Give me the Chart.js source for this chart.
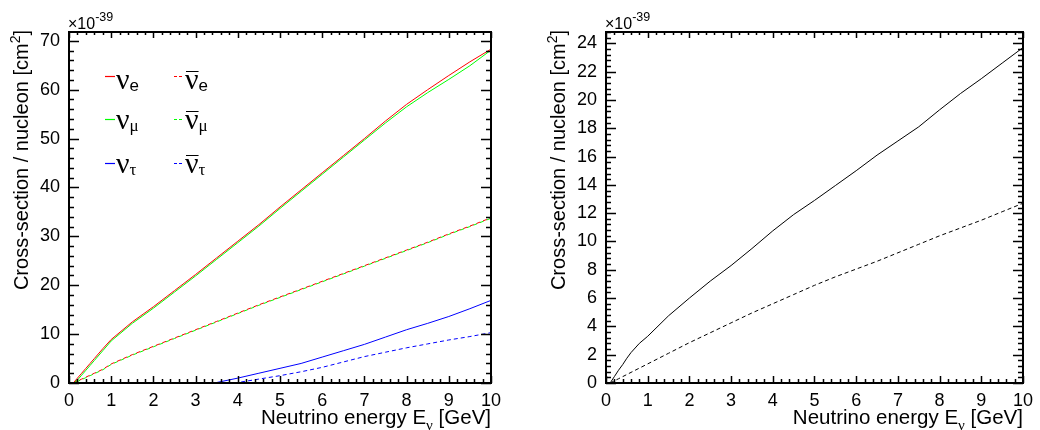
<!DOCTYPE html>
<html>
<head>
<meta charset="utf-8">
<title>Neutrino cross-sections</title>
<script src="https://cdn.jsdelivr.net/npm/chart.js@4.4.1/dist/chart.umd.min.js"></script>
<style>
  html, body { margin: 0; padding: 0; background: #fff; }
  #wrap { display: flex; width: 1040px; height: 430px; }
  canvas { display: block; }
</style>
</head>
<body>
<div id="wrap">
  <canvas id="xsec-flavour" width="520" height="430"></canvas>
  <canvas id="xsec-average" width="520" height="430"></canvas>
</div>
<script>
// neutrino energy grid, GeV
var energy = [0.1, 0.2, 0.3, 0.4, 0.5, 0.6, 0.8, 1.0, 1.5, 2.0, 2.5, 3.0, 3.5,
              4.0, 4.5, 5.0, 5.5, 6.0, 6.5, 7.0, 7.5, 8.0, 8.5, 9.0, 9.5, 10.0];

// cross-section per nucleon, units of 1e-39 cm^2
var nuE       = [0, 1.0, 2.0, 3.0, 4.0, 5.0, 7.0, 8.9, 12.5, 15.6, 18.9, 22.2, 25.6,
                 29.0, 32.4, 36.0, 39.5, 43.0, 46.5, 50.0, 53.6, 57.0, 60.0, 62.9, 65.7, 68.3];
var nuMu      = [0, 0.6, 1.6, 2.6, 3.6, 4.6, 6.6, 8.6, 12.2, 15.3, 18.6, 21.9, 25.3,
                 28.7, 32.1, 35.7, 39.2, 42.7, 46.2, 49.7, 53.2, 56.5, 59.4, 62.1, 64.9, 68.1];
var nuTau     = [0, 0, 0, 0, 0, 0, 0, 0, 0, 0, 0, 0, 0.1,
                 1.0, 2.0, 3.0, 4.0, 5.3, 6.6, 7.9, 9.4, 10.9, 12.2, 13.6, 15.2, 16.9];
var antiNuE   = [0, 0.4, 0.8, 1.2, 1.6, 2.0, 2.8, 3.9, 5.8, 7.5, 9.2, 10.9, 12.6,
                 14.3, 16.0, 17.6, 19.2, 20.8, 22.4, 24.0, 25.6, 27.2, 28.8, 30.5, 32.1, 33.8];
var antiNuMu  = [0, 0.3, 0.7, 1.1, 1.5, 1.9, 2.7, 3.8, 5.7, 7.4, 9.1, 10.8, 12.5,
                 14.2, 15.9, 17.5, 19.1, 20.7, 22.3, 23.9, 25.5, 27.1, 28.7, 30.4, 32.0, 33.7];
var antiNuTau = [0, 0, 0, 0, 0, 0, 0, 0, 0, 0, 0, 0, 0,
                 0.1, 0.8, 1.5, 2.3, 3.2, 4.3, 5.4, 6.3, 7.2, 8.0, 8.8, 9.5, 10.3];

// flavour-averaged curves
var nuX       = [0, 0.45, 0.9, 1.3, 1.75, 2.15, 2.8, 3.3, 4.75, 6.0, 7.2, 8.3, 9.5,
                 10.75, 11.9, 12.9, 13.95, 15.0, 16.1, 17.1, 18.1, 19.3, 20.45, 21.5, 22.6, 23.7];
var antiNuX   = [0, 0.15, 0.3, 0.45, 0.6, 0.75, 1.05, 1.35, 2.1, 2.85, 3.55, 4.25, 4.95,
                 5.6, 6.25, 6.9, 7.5, 8.05, 8.6, 9.2, 9.8, 10.4, 10.95, 11.5, 12.1, 12.7];

var energyTicks   = [0, 1, 2, 3, 4, 5, 6, 7, 8, 9, 10];
var flavourTicks  = [0, 10, 20, 30, 40, 50, 60, 70];
var averageTicks  = [0, 2, 4, 6, 8, 10, 12, 14, 16, 18, 20, 22, 24];
var flavourSubs   = ['e', 'μ', 'τ'];

var SANS = "'Liberation Sans', Arial, Helvetica, sans-serif";
var SERIF = "'Liberation Serif', 'Times New Roman', serif";

Chart.defaults.font.family = SANS;
Chart.defaults.font.size = 18;
Chart.defaults.color = '#000';

// draws text pieces in a row; each piece can be shifted up/down (sub/superscript)
function drawPieces(ctx, pieces, x, y) {
  pieces.forEach(function (p) {
    ctx.font = p.font;
    ctx.fillText(p.text, x, y + (p.dy || 0));
    x += ctx.measureText(p.text).width;
  });
  return x;
}

function piecesWidth(ctx, pieces) {
  var w = 0;
  pieces.forEach(function (p) { ctx.font = p.font; w += ctx.measureText(p.text).width; });
  return w;
}

// ROOT-like frame: box, inward ticks on all four sides, titles, exponent, legend
function frameDecor(cfg) {
  return {
    id: 'frameDecor',
    afterDraw: function (chart) {
      var ctx = chart.ctx, a = chart.chartArea;
      var xs = chart.scales.x, ys = chart.scales.y;
      ctx.save();
      ctx.strokeStyle = '#000';
      ctx.fillStyle = '#000';

      // ticks
      ctx.lineWidth = 1.5;
      ctx.beginPath();
      var n = Math.round(10 / 0.2);
      for (var i = 0; i <= n; i++) {
        var v = i * 0.2;
        var major = Math.abs(v - Math.round(v)) < 1e-6;
        var px = Math.round(xs.getPixelForValue(v)) + 0.5;
        var len = major ? 7 : 4;
        ctx.moveTo(px, a.bottom); ctx.lineTo(px, a.bottom - len);
        ctx.moveTo(px, a.top); ctx.lineTo(px, a.top + len - 1);
      }
      var minor = cfg.yStep / 5;
      for (var j = 0; j * minor <= cfg.yMax + 1e-9; j++) {
        var val = j * minor;
        var isMajor = j % 5 === 0;
        var py = Math.round(ys.getPixelForValue(val)) + 0.5;
        var ylen = isMajor ? 10 : 5;
        ctx.moveTo(a.left, py); ctx.lineTo(a.left + ylen, py);
        ctx.moveTo(a.right, py); ctx.lineTo(a.right - ylen, py);
      }
      ctx.stroke();

      // frame
      ctx.lineWidth = 2;
      ctx.strokeRect(a.left, a.top, a.right - a.left, a.bottom - a.top);

      // exponent
      ctx.textAlign = 'left';
      ctx.textBaseline = 'alphabetic';
      drawPieces(ctx, [
        { text: '×10', font: '16px ' + SANS },
        { text: '-39', font: '12.5px ' + SANS, dy: -8 }
      ], a.left - 1, 29);

      // x title, right-aligned to the frame
      var xt = [
        { text: 'Neutrino energy E', font: '20.5px ' + SANS },
        { text: 'ν', font: '15px ' + SERIF, dy: 6 },
        { text: ' [GeV]', font: '20.5px ' + SANS }
      ];
      drawPieces(ctx, xt, a.right - piecesWidth(ctx, xt), 424);

      // y title, rotated, ending at the top of the frame
      var yt = [
        { text: 'Cross-section / nucleon [cm', font: '20px ' + SANS },
        { text: '2', font: '14px ' + SANS, dy: -8 },
        { text: ']', font: '20px ' + SANS }
      ];
      ctx.save();
      ctx.translate(cfg.yTitleX, 30);
      ctx.rotate(-Math.PI / 2);
      drawPieces(ctx, yt, -piecesWidth(ctx, yt), 0);
      ctx.restore();

      // legend
      cfg.legend.forEach(function (e) {
        var ds = chart.data.datasets[e.dataset];
        ctx.save();
        ctx.strokeStyle = ds.borderColor;
        ctx.lineWidth = 1.2;
        ctx.setLineDash(ds.borderDash && ds.borderDash.length ? [3, 2] : []);
        ctx.beginPath();
        ctx.moveTo(e.x, e.lineY + 0.5);
        ctx.lineTo(e.x + 10, e.lineY + 0.5);
        ctx.stroke();
        ctx.restore();

        var nx = e.x + 11;
        ctx.font = '30px ' + SERIF;
        var w = ctx.measureText('ν').width;
        ctx.fillText('ν', nx, e.base);
        if (e.anti) {
          ctx.lineWidth = 1;
          ctx.beginPath();
          ctx.moveTo(nx + 1, e.base - 17.5);
          ctx.lineTo(nx + w, e.base - 17.5);
          ctx.stroke();
        }
        var greek = /[μτ]/.test(e.sub);
        ctx.font = cfg.subSize + 'px ' + (greek ? SERIF : SANS);
        ctx.fillText(e.sub, nx + w, e.base + 2);
      });
      ctx.restore();
    }
  };
}

function crossSectionChart(canvasId, series, cfg) {
  return new Chart(document.getElementById(canvasId), {
    type: 'line',
    data: {
      datasets: series.map(function (s) {
        return {
          label: s.label,
          data: energy.map(function (e, i) { return { x: e, y: s.values[i] }; }),
          borderColor: s.color,
          borderWidth: 1,
          borderDash: s.dash || [],
          borderDashOffset: s.dashOffset || 0,
          pointRadius: 0,
          tension: 0,
          fill: false
        };
      })
    },
    options: {
      responsive: false,
      animation: false,
      events: [],
      layout: { padding: { top: 32, right: cfg.padRight, left: 0, bottom: 0 } },
      plugins: { legend: { display: false }, tooltip: { enabled: false } },
      scales: {
        x: {
          type: 'linear', min: 0, max: 10,
          grid: { display: false, drawTicks: false },
          border: { display: false },
          afterBuildTicks: function (s) { s.ticks = energyTicks.map(function (v) { return { value: v }; }); },
          afterFit: function (s) { s.height = 47; },
          ticks: { padding: 7, maxRotation: 0, autoSkip: false }
        },
        y: {
          type: 'linear', min: 0, max: cfg.yMax,
          grid: { display: false, drawTicks: false },
          border: { display: false },
          afterBuildTicks: function (s) { s.ticks = cfg.yTicks.map(function (v) { return { value: v }; }); },
          afterFit: function (s) { s.width = cfg.axisLeft; },
          ticks: { padding: 9, autoSkip: false }
        }
      }
    },
    plugins: [frameDecor(cfg)]
  });
}

// left: one curve per flavour
var flavourSeries = [
  { label: 'nu_e',      values: nuE,       color: '#ff0000' },
  { label: 'nu_mu',     values: nuMu,      color: '#00ff00' },
  { label: 'nu_tau',    values: nuTau,     color: '#0000ff' },
  { label: 'nubar_e',   values: antiNuE,   color: '#ff0000', dash: [4, 3] },
  { label: 'nubar_mu',  values: antiNuMu,  color: '#00ff00', dash: [4, 3], dashOffset: 3.5 },
  { label: 'nubar_tau', values: antiNuTau, color: '#0000ff', dash: [4, 3] }
];
var rowLine = [76, 119, 163];
var rowBase = [89, 129, 173];
var flavourLegend = [];
flavourSubs.forEach(function (sub, r) {
  flavourLegend.push({ dataset: r,     x: 105, lineY: rowLine[r], base: rowBase[r], sub: sub, anti: false });
  flavourLegend.push({ dataset: r + 3, x: 174, lineY: rowLine[r], base: rowBase[r], sub: sub, anti: true });
});

crossSectionChart('xsec-flavour', flavourSeries, {
  yMax: 71.8, yStep: 10, yTicks: flavourTicks,
  axisLeft: 69, padRight: 29, yTitleX: 28, subSize: 17,
  legend: flavourLegend
});

// right: flavour-averaged neutrino / antineutrino
crossSectionChart('xsec-average', [
  { label: 'nu_x',    values: nuX,     color: '#000000' },
  { label: 'nubar_x', values: antiNuX, color: '#000000', dash: [4, 3] }
], {
  yMax: 24.8, yStep: 2, yTicks: averageTicks,
  axisLeft: 86, padRight: 12, yTitleX: 45, subSize: 19,
  legend: [
    { dataset: 0, x: 642, lineY: 76,  base: 88,  sub: 'x', anti: false },
    { dataset: 1, x: 642, lineY: 127, base: 132, sub: 'x', anti: true }
  ]
});
</script>
</body>
</html>
